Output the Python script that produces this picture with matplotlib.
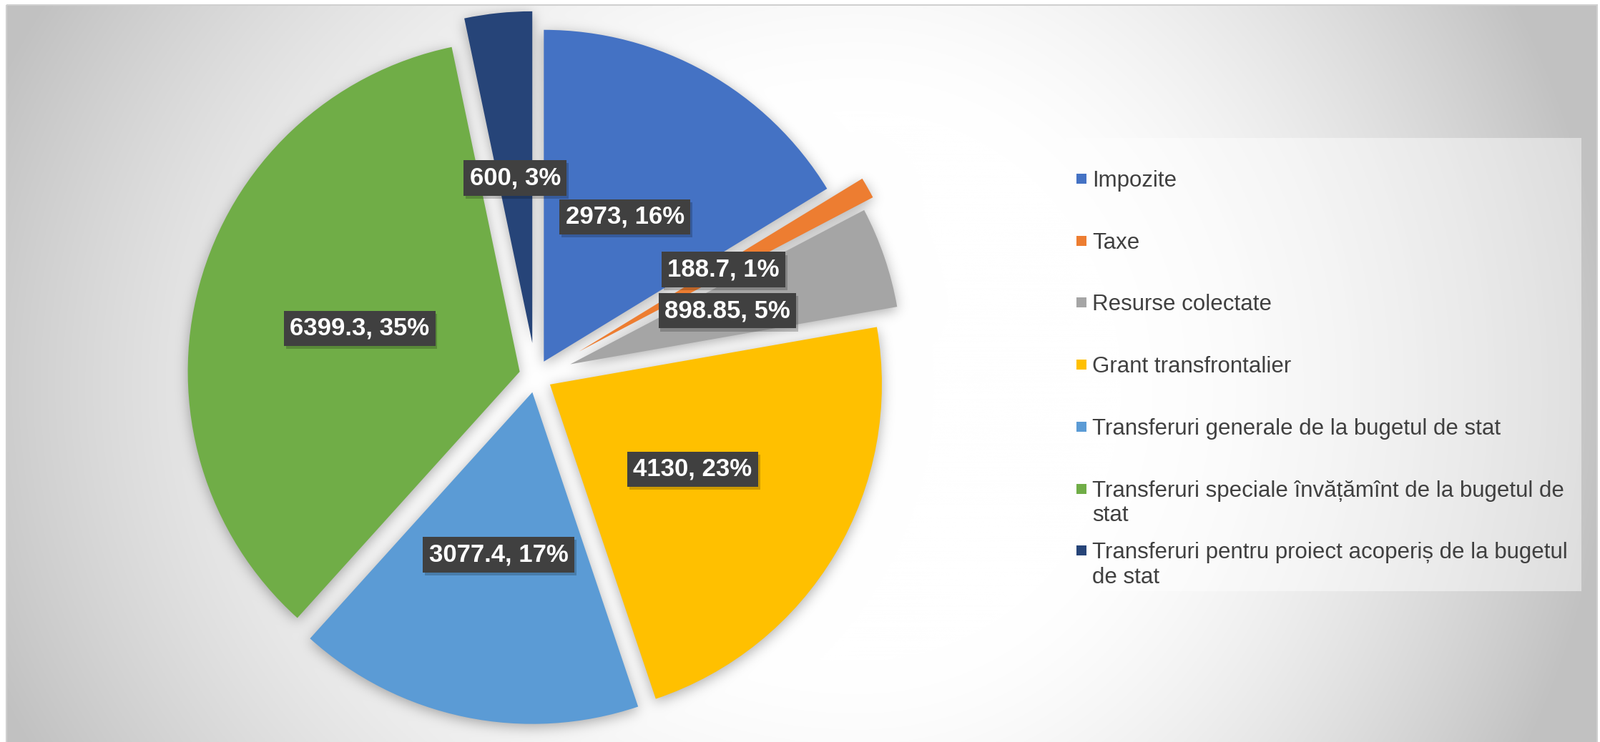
import textwrap
import numpy as np
import matplotlib
matplotlib.use('Agg')
import matplotlib.pyplot as plt
import matplotlib.patheffects as pe
from matplotlib.patches import Rectangle

# date
categorii = ['Impozite', 'Taxe', 'Resurse colectate', 'Grant transfrontalier',
             'Transferuri generale de la bugetul de stat',
             'Transferuri speciale învățămînt de la bugetul de stat',
             'Transferuri pentru proiect acoperiș de la bugetul de stat']
valori = [2973, 188.7, 898.85, 4130, 3077.4, 6399.3, 600]
culori = ['#4472C4', '#ED7D31', '#A5A5A5', '#FFC000', '#5B9BD5', '#70AD47', '#264478']
explodare = [0.05, 0.15, 0.11, 0.05, 0.05, 0.05, 0.10]

W, H = 2237, 1038
CX, CY, R = 749, 526, 464   # centrul si raza pie-ului, in pixeli (y de sus)

plt.rcParams['font.family'] = ['Liberation Sans', 'DejaVu Sans']

fig = plt.figure(figsize=(W / 100, H / 100), dpi=100)
ax = fig.add_axes([0, 0, 1, 1])
x0, x1 = -CX / R, (W - CX) / R
y0, y1 = (CY - H) / R, CY / R

total = sum(valori)


def eticheta(p):
    v = round(p * total / 100, 2)
    return f'{v:g}, {p:.0f}%'


wedges, _, autotexts = ax.pie(valori, colors=culori, explode=explodare,
                              startangle=90, counterclock=False,
                              autopct=eticheta, pctdistance=0.5,
                              wedgeprops=dict(linewidth=0))

for t in autotexts:
    t.set(color='white', fontsize=25, fontweight='bold')
    t.set_bbox(dict(boxstyle='square,pad=0.24', fc='#404040', ec='none'))
    t.get_bbox_patch().set_path_effects([
        pe.SimplePatchShadow(offset=(2, -3), shadow_rgbFace='black', alpha=0.2),
        pe.Normal()])

# fundal cu gradient radial + umbra feliilor
jj, ii = np.meshgrid(np.arange(W) + 0.5, np.arange(H) + 0.5)
gx, gy = 1200, 540
rx = np.where(jj < gx, 1300.0, 1050.0)
d = np.sqrt(((jj - gx) / rx) ** 2 + ((ii - gy) / 1100.0) ** 2)
t = np.clip((d - 0.35) / 0.65, 0, 1)
bg = 1 - 0.24 * t ** 1.5

xd = (jj - CX) / R
yd = (CY - ii) / R
mask = np.zeros((H, W))
for w in wedges:
    wx, wy = w.center
    dx = xd - wx
    dy = yd - wy
    ang = np.degrees(np.arctan2(dy, dx))
    inside = (dx * dx + dy * dy <= w.r ** 2) & (((ang - w.theta1) % 360) <= (w.theta2 - w.theta1))
    mask[inside] = 1.0

pad = 80
m = np.pad(mask, pad)
m = np.roll(m, 4, axis=0)
ky = np.fft.fftfreq(m.shape[0])[:, None]
kx = np.fft.rfftfreq(m.shape[1])[None, :]
s = 9.0
g = np.exp(-2 * (np.pi * s) ** 2 * (kx ** 2 + ky ** 2))
m = np.fft.irfft2(np.fft.rfft2(m) * g, s=m.shape)[pad:-pad, pad:-pad]
bg = bg * (1 - 0.32 * np.clip(m, 0, 1))

outside = (jj < 9) | (ii < 7) | (jj > 2233)
bg[outside] = 1.0

ax.imshow(np.dstack([bg] * 3), extent=(x0, x1, y0, y1), origin='upper',
          zorder=-1, interpolation='nearest', aspect='auto')
ax.set_xlim(x0, x1)
ax.set_ylim(y0, y1)
ax.set_aspect('auto')
ax.axis('off')

# legenda si chenar, in pixeli
ov = fig.add_axes([0, 0, 1, 1])
ov.set_xlim(0, W)
ov.set_ylim(H, 0)
ov.axis('off')
ov.patch.set_alpha(0)
ov.add_patch(Rectangle((9, 7), 2224, H, fill=False, ec='#d0d0d0', lw=1.5))
ov.add_patch(Rectangle((1491, 193), 720, 634, fc='white', alpha=0.45, ec='none'))
for k, (cat, col) in enumerate(zip(categorii, culori)):
    yc = 250 + 86.7 * k
    ov.add_patch(Rectangle((1505, yc - 7), 14, 14, fc=col, ec='none'))
    ov.text(1527, yc - 12, textwrap.fill(cat, 49), va='top', ha='left',
            fontsize=22.5, color='#404040')

fig.savefig('out.png', dpi=100)
